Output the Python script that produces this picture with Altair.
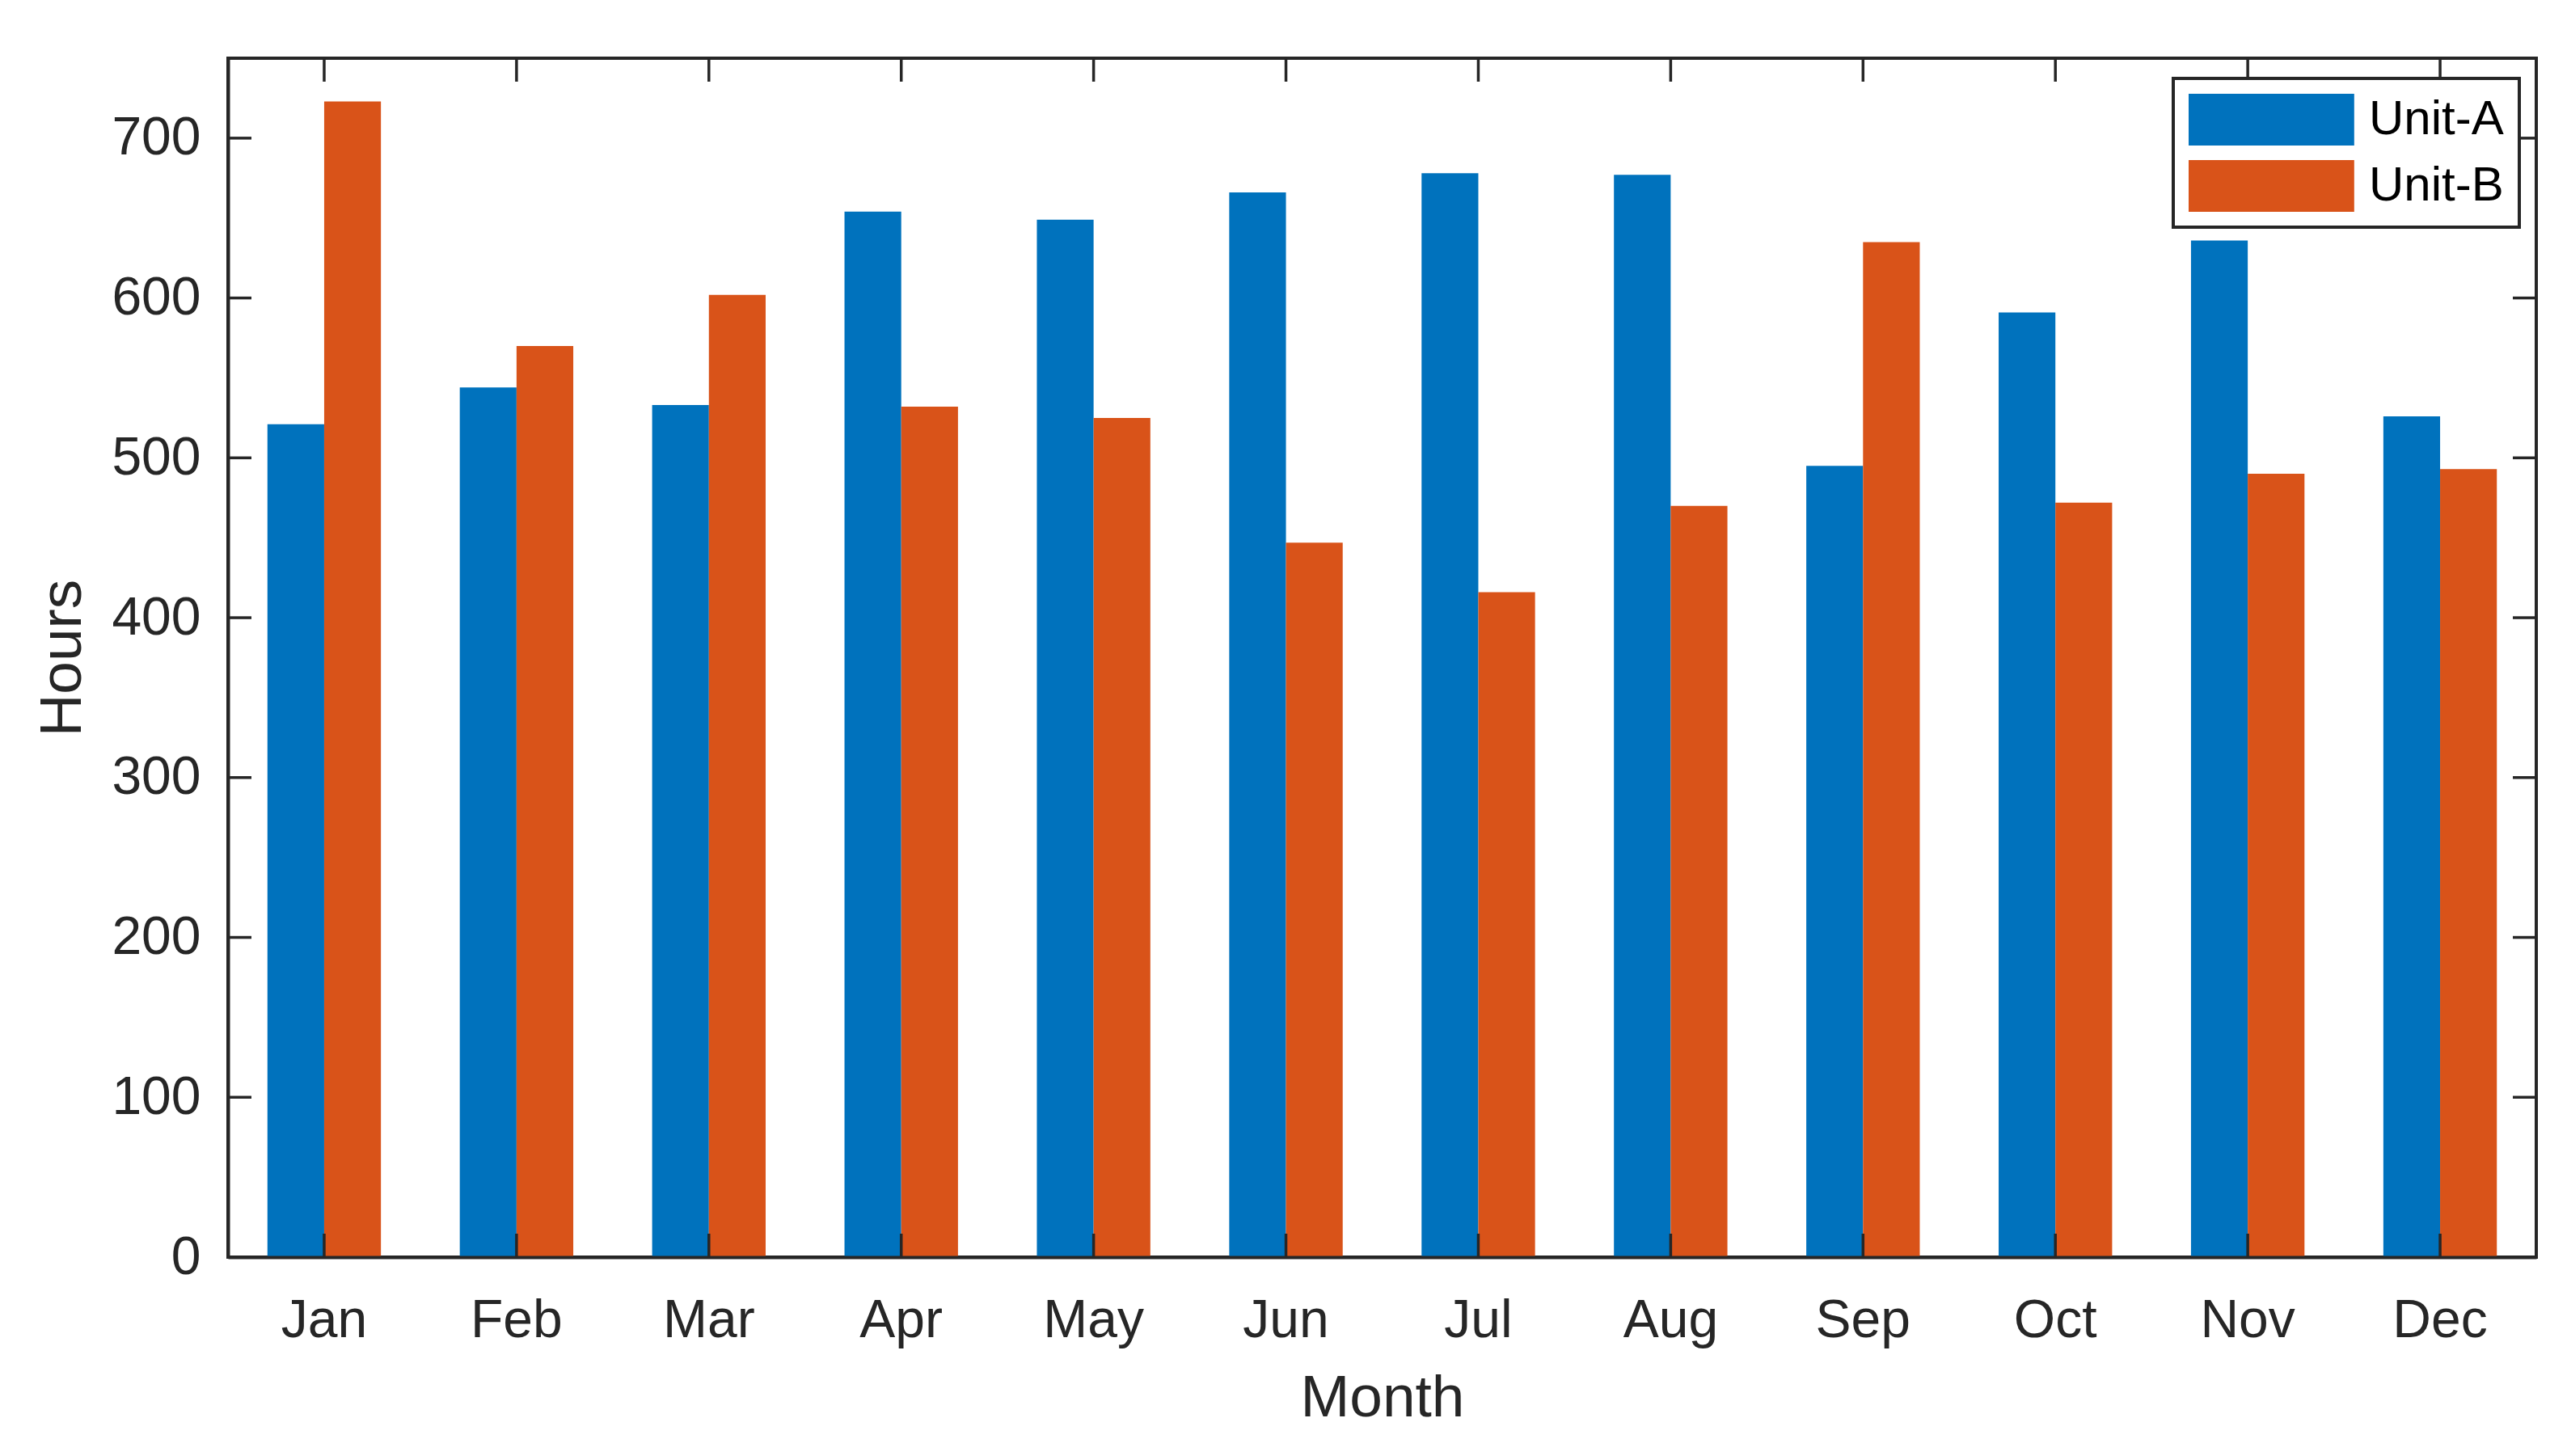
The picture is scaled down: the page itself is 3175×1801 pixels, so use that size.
import altair as alt
import pandas as pd

months = ["Jan", "Feb", "Mar", "Apr", "May", "Jun", "Jul", "Aug", "Sep", "Oct", "Nov", "Dec"]
units = ["Unit-A", "Unit-B"]
unit_a = [521, 544, 533, 654, 649, 666, 678, 677, 495, 591, 636, 526]
unit_b = [723, 570, 602, 532, 525, 447, 416, 470, 635, 472, 490, 493]
y_ticks = [0, 100, 200, 300, 400, 500, 600, 700]
colors = ["#0072BD", "#D95319"]

W, H = 2855, 1483
TICK = 29
AX = "#262626"
FONT = "Liberation Sans"

rows = []
for m, a, b in zip(months, unit_a, unit_b):
    rows.append({"month": m, "unit": "Unit-A", "hours": a})
    rows.append({"month": m, "unit": "Unit-B", "hours": b})
df = pd.DataFrame(rows)
df_m = pd.DataFrame({"month": months})
df_y = pd.DataFrame({"hours": y_ticks})

X = alt.X(
    "month:N", sort=months, title="Month",
    scale=alt.Scale(paddingInner=0.41, paddingOuter=0.205),
    axis=alt.Axis(
        labelAngle=0, labelFontSize=66, labelFont=FONT, labelColor=AX,
        labelPadding=98, labelBaseline="alphabetic",
        ticks=False, tickSize=0, domain=True, domainColor=AX, domainWidth=4,
        titleFontSize=73, titleFont=FONT, titleColor=AX, titleFontWeight="normal",
        titleBaseline="alphabetic", titleY=196, titleX=W / 2, titleAlign="center",
        zindex=1,
    ),
)
Y = alt.Y(
    "hours:Q", title="Hours",
    scale=alt.Scale(domain=[0, 750], nice=False, zero=True),
    axis=alt.Axis(
        values=y_ticks, labelFontSize=66, labelFont=FONT, labelColor=AX,
        labelPadding=34, ticks=False, tickSize=0, grid=False,
        domain=True, domainColor=AX, domainWidth=4,
        titleFontSize=73, titleFont=FONT, titleColor=AX, titleFontWeight="normal",
        titleAngle=-90, titleBaseline="alphabetic", titleAlign="center",
        titleX=-183, titleY=H / 2,
        zindex=1,
    ),
)

bars = alt.Chart(df).mark_bar(strokeWidth=0).encode(
    x=X,
    xOffset=alt.XOffset("unit:N", sort=units),
    y=Y,
    color=alt.Color("unit:N", sort=units,
                    scale=alt.Scale(domain=units, range=colors),
                    legend=alt.Legend(title=None)),
)

rule_kw = dict(color=AX, strokeWidth=3.5)
xt_bottom = alt.Chart(df_m).mark_rule(**rule_kw).encode(
    x=X, y=alt.value(H), y2=alt.value(H - TICK))
xt_top = alt.Chart(df_m).mark_rule(**rule_kw).encode(
    x=X, y=alt.value(0), y2=alt.value(TICK))
yt_left = alt.Chart(df_y).mark_rule(**rule_kw).encode(
    y=Y, x=alt.value(0), x2=alt.value(TICK))
yt_right = alt.Chart(df_y).mark_rule(**rule_kw).encode(
    y=Y, x=alt.value(W), x2=alt.value(W - TICK))

chart = alt.layer(bars, xt_bottom, xt_top, yt_left, yt_right).properties(
    width=W, height=H,
    background="white",
    autosize=alt.AutoSizeParams(type="none"),
    padding={"left": 274, "top": 64, "right": 22, "bottom": 220},
).configure_view(
    stroke=AX, strokeWidth=4
).configure_legend(
    orient="none", legendX=2406, legendY=25,
    padding=19, strokeColor=AX, strokeWidth=4, fillColor="white", cornerRadius=0,
    labelFont=FONT, labelFontSize=60, labelColor="black", labelOffset=159,
    symbolType="M-1,-1H5.4V1H-1Z", symbolSize=4096, symbolStrokeWidth=0,
    rowPadding=18, labelLimit=400,
)

chart.save("out.html", embed_options={"renderer": "svg", "actions": False})
